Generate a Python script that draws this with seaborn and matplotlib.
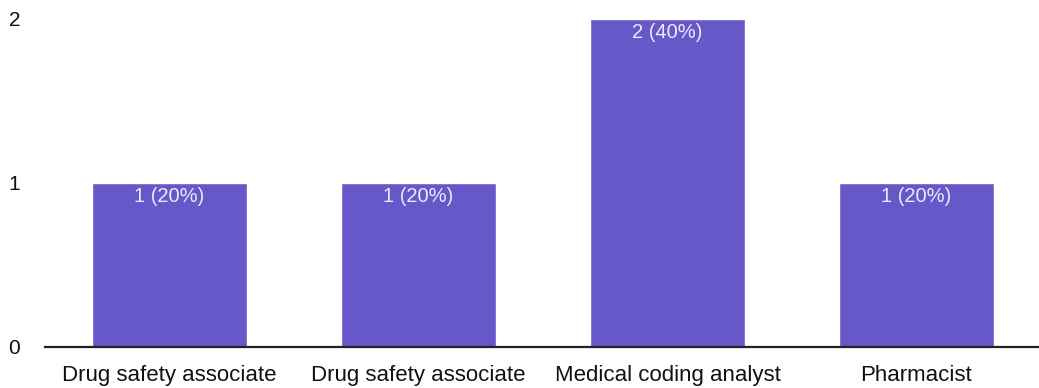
import matplotlib
matplotlib.use("Agg")
import matplotlib.pyplot as plt
import pandas as pd
import seaborn as sns

# valeurs
categories = ["Drug safety associate", "Drug safety associate",
              "Medical coding analyst", "Pharmacist"]
counts = [1, 1, 2, 1]
labels = ["1 (20%)", "1 (20%)", "2 (40%)", "1 (20%)"]
y_ticks = [0, 1, 2]

sns.set_style("white")
plt.rcParams['font.family'] = ['Liberation Sans', 'DejaVu Sans']

data = pd.DataFrame({"pos": [str(i) for i in range(len(categories))],
                     "count": counts})

fig = plt.figure(figsize=(10.39, 3.88), dpi=100)
ax = fig.add_axes([45 / 1039, 41 / 388, 996 / 1039, 328 / 388])

sns.barplot(data=data, x="pos", y="count", color="#6658c8", saturation=1,
            width=0.62, ax=ax)

# etiquettes dans les barres
for i, (v, lab) in enumerate(zip(counts, labels)):
    ax.annotate(lab, (i, v), xytext=(0, -3), textcoords="offset points",
                ha="center", va="top", color="#ece9fb", fontsize=14.5)

ax.set_xlim(-0.5, len(categories) - 0.5)
ax.set_ylim(0, max(y_ticks))
ax.set_yticks(y_ticks)
ax.set_xticks(range(len(categories)))
ax.set_xticklabels(categories)
ax.set_xlabel("")
ax.set_ylabel("")
ax.tick_params(axis="x", length=0, pad=13, labelsize=16, labelcolor="#111111")
ax.tick_params(axis="y", length=0, pad=18, labelsize=15, labelcolor="#111111")
for s in ["top", "right", "left"]:
    ax.spines[s].set_visible(False)
ax.spines["bottom"].set_color("#222222")
ax.spines["bottom"].set_linewidth(1.6)

fig.savefig("out.png", dpi=100)
